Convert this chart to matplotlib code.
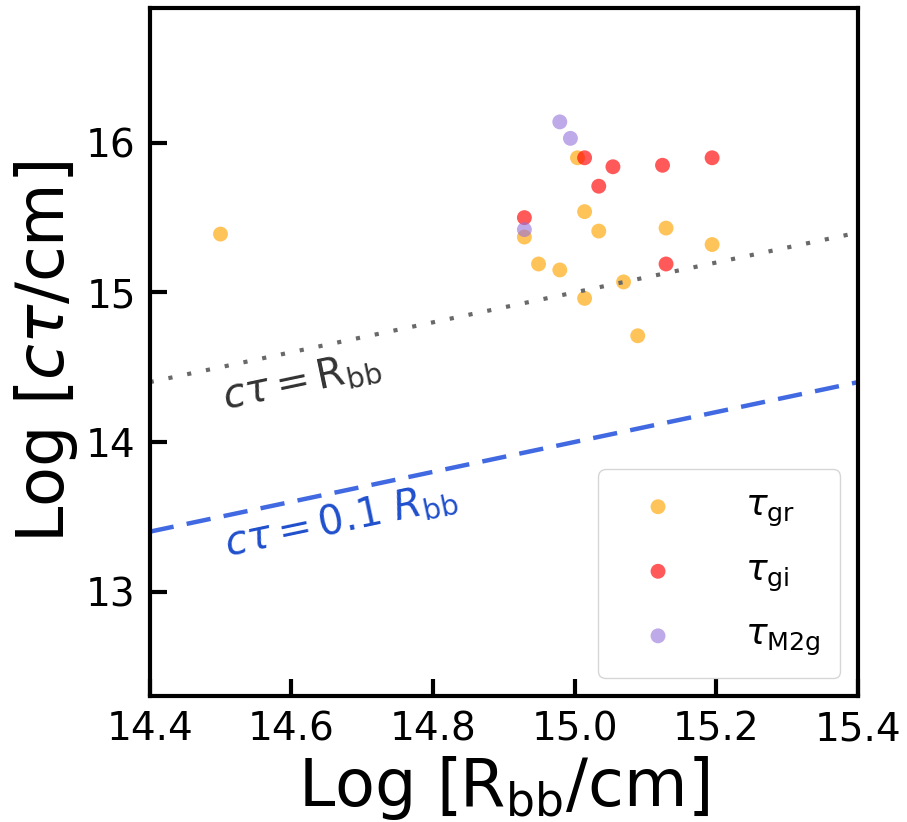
import numpy as np
import matplotlib.pyplot as plt

# data
gr_x = [14.500, 14.929, 14.949, 14.979, 15.004, 15.014, 15.014, 15.034, 15.069, 15.089, 15.129, 15.194]
gr_y = [15.39, 15.37, 15.19, 15.15, 15.90, 15.54, 14.96, 15.41, 15.07, 14.71, 15.43, 15.32]

gi_x = [14.929, 15.014, 15.034, 15.054, 15.124, 15.129, 15.194]
gi_y = [15.50, 15.90, 15.71, 15.84, 15.85, 15.19, 15.90]

m2g_x = [14.929, 14.979, 14.994]
m2g_y = [15.42, 16.14, 16.03]

line_x = np.array([14.4, 15.4])

fig = plt.figure(figsize=(9.07, 8.22), dpi=100)
ax = fig.add_axes([0.165, 0.153, 0.781, 0.837])

ax.plot(line_x, line_x, color='dimgray', lw=3, dashes=(1, 3.6))
ax.plot(line_x, line_x - 1, '--', color='royalblue', lw=3.2, dashes=(5.5, 3))

ax.scatter(gr_x, gr_y, s=115, color='orange', alpha=0.65, edgecolors='none', label=r'$\tau_{\rm gr}$')
ax.scatter(gi_x, gi_y, s=115, color='red', alpha=0.65, edgecolors='none', label=r'$\tau_{\rm gi}$')
ax.scatter(m2g_x, m2g_y, s=115, color='mediumpurple', alpha=0.6, edgecolors='none', label=r'$\tau_{\rm M2g}$')

ax.text(14.507, 14.22, r'$c\tau = {\rm R_{bb}}$', color='#333333', fontsize=29,
        rotation=11.9, rotation_mode='anchor', ha='left', va='baseline')
ax.text(14.51, 13.24, r'$c\tau = 0.1\ R_{\rm bb}$', color='#1f4fcc', fontsize=29,
        rotation=11.9, rotation_mode='anchor', ha='left', va='baseline')

ax.set_xlim(14.4, 15.4)
ax.set_ylim(12.3, 16.9)
ax.set_xticks([14.4, 14.6, 14.8, 15.0, 15.2, 15.4])
ax.set_yticks([13, 14, 15, 16])
ax.tick_params(direction='in', length=12, width=3, labelsize=28, pad=10)
for sp in ax.spines.values():
    sp.set_linewidth(3)

ax.set_xlabel(r'Log [R$_{\rm bb}$/cm]', fontsize=47)
ax.set_ylabel(r'Log [$c\tau$/cm]', fontsize=47)

ax.legend(loc='lower right', fontsize=26, handletextpad=1.3, labelspacing=0.68,
          borderpad=0.55, markerscale=1.0, borderaxespad=0.5, handlelength=2.2)

plt.savefig('out.png')
